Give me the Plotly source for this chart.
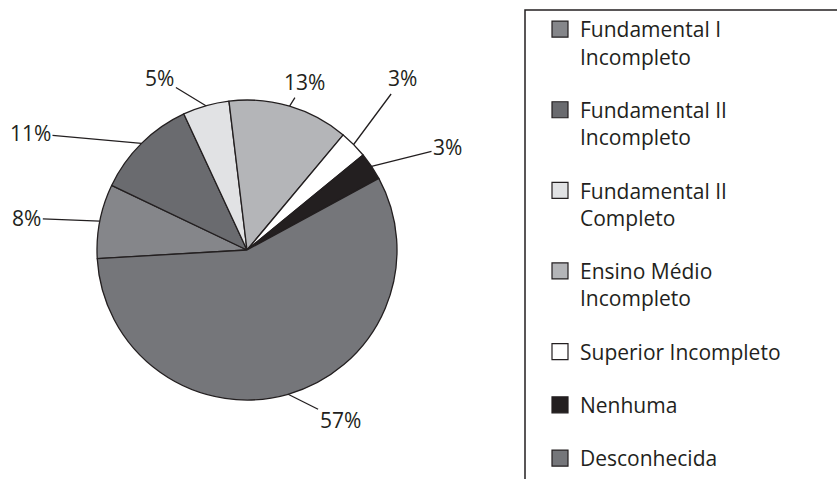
import numpy as np
import plotly.graph_objects as go

# ---- data ----
categories = [
    "Fundamental I<br>Incompleto",
    "Fundamental II<br>Incompleto",
    "Fundamental II<br>Completo",
    "Ensino Médio<br>Incompleto",
    "Superior Incompleto",
    "Nenhuma",
    "Desconhecida",
]
values = [8, 11, 5, 13, 3, 3, 57]
slice_colors = ["#85868a", "#6a6b6f", "#e1e2e4", "#b4b5b8", "#ffffff", "#231f20", "#75767a"]

# ---- style / layout ----
W, H = 837, 479
CX, CY, R = 247, 250, 150        # pie centre / radius in pixels
ROT = -93.3
INK = "#231f20"
FONT = "Open Sans"
# pixel offsets of each percentage label from its slice edge (leader-line length)
label_offsets = [(-73, -3), (-111, -10), (-46, -28), (15, -24), (49, -66), (76, -19), (52, 26)]

fig = go.Figure()

fig.add_trace(go.Pie(
    labels=categories, values=values, sort=False, direction="clockwise",
    rotation=ROT, textinfo="none", hoverinfo="label+percent",
    marker=dict(colors=slice_colors, line=dict(color=INK, width=1.3)),
    domain=dict(x=[(CX - R) / W, (CX + R) / W], y=[(H - CY - R) / H, (H - CY + R) / H]),
    showlegend=False,
))

# legend entries (square swatches)
for name, col in zip(categories, slice_colors):
    fig.add_trace(go.Scatter(
        x=[None], y=[None], mode="markers", name=name, legendgroup=name,
        marker=dict(symbol="square", size=16, color=col, line=dict(color=INK, width=1.2)),
    ))

# percentage labels with leader lines, anchored at slice mid-angles
tot = float(sum(values))
cum = 0.0
anns = []
for v, (ox, oy) in zip(values, label_offsets):
    mid = np.deg2rad(ROT + (cum + v / 2) / tot * 360)
    cum += v
    ex = CX + R * np.sin(mid)
    ey = CY - R * np.cos(mid)
    anns.append(dict(
        x=ex / W, y=1 - ey / H, xref="paper", yref="paper",
        ax=ox, ay=oy,
        text=f"{v}%", showarrow=True, arrowhead=0, arrowwidth=1.3,
        arrowcolor=INK, standoff=0, font=dict(size=21, color=INK, family=FONT),
    ))

fig.update_layout(
    width=W, height=H,
    margin=dict(l=0, r=0, t=0, b=0),
    paper_bgcolor="white", plot_bgcolor="white",
    xaxis=dict(visible=False), yaxis=dict(visible=False),
    font=dict(family=FONT, color=INK, size=21),
    annotations=anns,
    legend=dict(
        x=540 / W, y=1 - 15 / H, xanchor="left", yanchor="top",
        valign="top", tracegroupgap=23, bgcolor="rgba(0,0,0,0)",
        font=dict(size=21, color=INK, family=FONT),
    ),
    shapes=[dict(
        type="rect", xref="paper", yref="paper",
        x0=525 / W, x1=1.05, y0=-0.05, y1=1 - 10 / H,
        line=dict(color=INK, width=1.5),
    )],
)

fig.write_html("out.html", config={"displayModeBar": False},
               post_script="document.body.style.margin='0';")
